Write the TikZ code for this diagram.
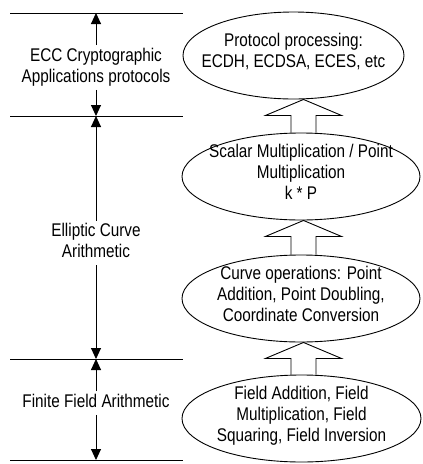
\documentclass[tikz,border=0pt]{standalone}
\usepackage{fontspec}
\setmainfont{Liberation Sans}
\usepackage{graphicx}
\usetikzlibrary{shapes.geometric,arrows.meta}

\newcommand\vtext[1]{\scalebox{1}[1.2]{\fontsize{15.3}{17.5}\selectfont\begin{tabular}{@{}c@{}}#1\end{tabular}}}

\begin{document}
\begin{tikzpicture}[x=1pt,y=-1pt,line width=0.9pt]
  \tikzset{
    blob/.style={ellipse,draw,inner sep=0pt,minimum width=#1,minimum height=87pt},
    side/.style={inner sep=1pt},
    dbl/.style={-{Triangle[length=11pt,width=10pt]}}}
  \fill[white] (0,0) rectangle (423,464);
  \useasboundingbox (0,0) rectangle (423,464);

  \foreach \n/\y in {0/13,1/116,2/359,3/460}{
    \draw (10,\y) -- (183,\y);
    \coordinate (m\n) at (96,\y);}

      \node[side](app) at (96,67.5){\vtext{ECC Cryptographic\\Applications protocols}};
      \node[side](eca) at (96,243){\vtext{Elliptic Curve\\Arithmetic}};
      \node[side](ffa) at (96,403){\vtext{Finite Field Arithmetic}};

  \draw[dbl](app)--(m0);
  \draw[dbl](app)--(m1);
  \draw[dbl](eca)--(m1);
  \draw[dbl](eca)--(m2);
  \draw[dbl](ffa)--(m2);
  \draw[dbl](ffa)--(m3);

  \node[blob=221pt,label={[yshift=2.4pt]center:\vtext{Protocol processing:\\ECDH, ECDSA, ECES, etc}}](pp) at (293.5,55.5){};
  \node[blob=238pt,label={[yshift=2.4pt]center:\vtext{Scalar Multiplication / Point\\Multiplication\\k * P}}](sm) at (301,176.5){};
  \node[blob=238pt,label={[yshift=2.4pt]center:\vtext{Curve operations: Point\\Addition, Point Doubling,\\Coordinate Conversion}}](co) at (301,298.5){};
  \node[blob=239pt,label={[yshift=2.4pt]center:\vtext{Field Addition, Field\\Multiplication, Field\\Squaring, Field Inversion}}](fa) at (301.5,418.5){};

  \coordinate (ax) at (303.5,0);
  \foreach \lo/\up in {sm/pp,co/sm,fa/co}{
    \path (ax |- \up.south) coordinate (tip) ++(-12.5,16) coordinate (sl)
          (tip) ++(12.5,16) coordinate (sr);
    \draw (sl |- \lo.north) -- (sl) -- ++(-25.5,0) -- (tip)
          -- ([xshift=25.5pt]sr) -- (sr) -- (sr |- \lo.north);}
\end{tikzpicture}
\end{document}
